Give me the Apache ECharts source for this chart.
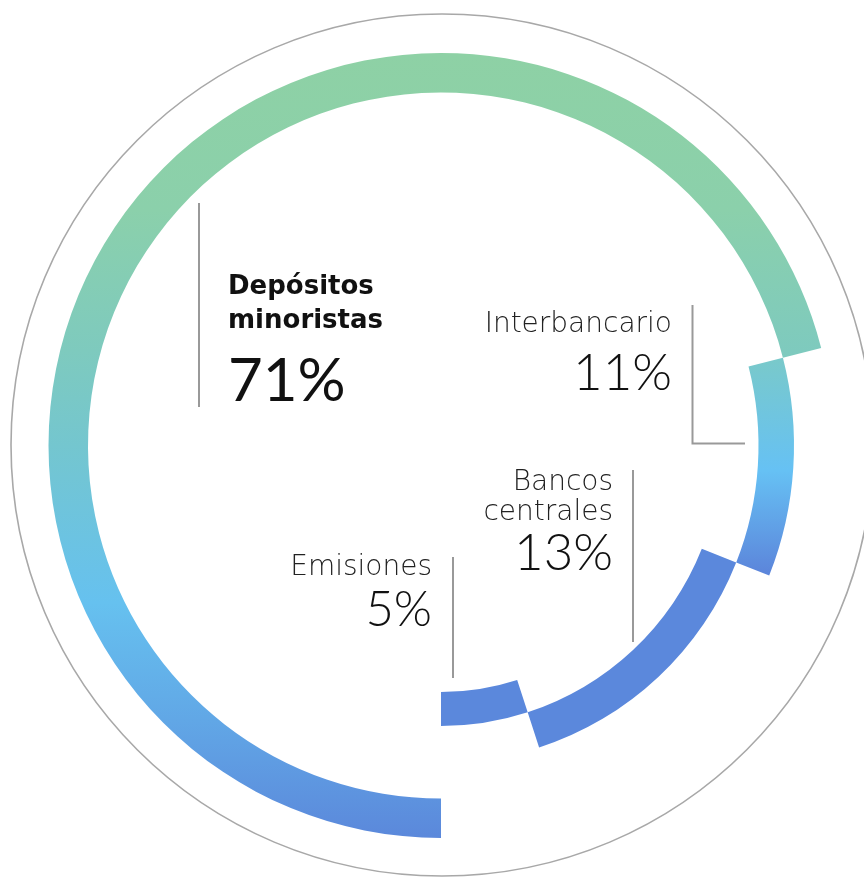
<!DOCTYPE html>
<html>
<head>
<meta charset="utf-8">
<script src="https://cdn.jsdelivr.net/npm/echarts@6/dist/echarts.min.js"></script>
<style>
html,body{margin:0;padding:0;background:#fff;}
#chart{width:864px;height:878px;}
</style>
</head>
<body>
<div id="chart"></div>
<script>
// ---- data ----
var categories = ['Depósitos minoristas', 'Interbancario', 'Bancos centrales', 'Emisiones'];
// arc sizes (share of the full turn, %), as drawn
var arcShares = [71, 10, 14, 5];
// printed percentages
var percentLabels = ['71%', '11%', '13%', '5%'];
// label text lines
var labelLines = [['Depósitos', 'minoristas'], ['Interbancario'], ['Bancos', 'centrales'], ['Emisiones']];

// ---- styling ----
var CX = 441, CY = 445.5;
var bandRadii = [[353, 392.5], [317.5, 353], [280.5, 317.5], [246.5, 280.5]];
var WORD_FONT = '"DejaVu Sans", Lato, sans-serif';
var NUM_FONT = 'Lato, "Open Sans", sans-serif';

var G = echarts.graphic.LinearGradient;
var fills = [
  new G(0, 53, 0, 838, [
    {offset: 0, color: '#8ed1a5'},
    {offset: 0.2, color: '#8bd0ab'},
    {offset: 0.38, color: '#7ecabe'},
    {offset: 0.5, color: '#74c6cf'},
    {offset: 0.7, color: '#66c1ef'},
    {offset: 0.85, color: '#61a7e6'},
    {offset: 1, color: '#5b88db'}
  ], true),
  new G(0, 347, 0, 572, [
    {offset: 0, color: '#7bcac6'},
    {offset: 0.55, color: '#66c1f4'},
    {offset: 1, color: '#5c86db'}
  ], true),
  '#5b88dc',
  '#5b88dc'
];

var series = [];
var cum = 0;
for (var i = 0; i < arcShares.length; i++) {
  var start = 270 - 360 * cum / 100;
  start = ((start % 360) + 360) % 360;
  series.push({
    type: 'pie',
    center: [CX, CY],
    radius: bandRadii[i],
    startAngle: start,
    clockwise: true,
    silent: true,
    animation: false,
    label: {show: false},
    labelLine: {show: false},
    emphasis: {disabled: true},
    itemStyle: {borderWidth: 0},
    data: [
      {name: categories[i], value: arcShares[i], itemStyle: {color: fills[i]}},
      {name: '', value: 100 - arcShares[i], itemStyle: {color: 'rgba(0,0,0,0)'}}
    ]
  });
  cum += arcShares[i];
}

// label layout (positions are styling)
var labelPos = [
  {x: 228, align: 'left', lineY: [287, 321], pctY: 381.5, nameFont: 'bold 26px ' + WORD_FONT, pctFont: '400 60px ' + NUM_FONT, color: '#111'},
  {x: 672, align: 'right', lineY: [325], pctY: 373.5, nameFont: '200 28px ' + WORD_FONT, pctFont: '300 51px ' + NUM_FONT, color: '#222'},
  {x: 613, align: 'right', lineY: [482.5, 513], pctY: 553.5, nameFont: '200 28px ' + WORD_FONT, pctFont: '300 51px ' + NUM_FONT, color: '#222'},
  {x: 432, align: 'right', lineY: [567.5], pctY: 610.5, nameFont: '200 28px ' + WORD_FONT, pctFont: '300 49px ' + NUM_FONT, color: '#222'}
];

var graphics = [
  {type: 'ellipse', shape: {cx: 442, cy: 445, rx: 431, ry: 431}, style: {fill: 'none', stroke: '#a8a8a8', lineWidth: 1.6}, silent: true, z: 0},
  {type: 'line', shape: {x1: 199, y1: 203, x2: 199, y2: 407}, style: {stroke: '#999', lineWidth: 2}, silent: true},
  {type: 'polyline', shape: {points: [[692.5, 305], [692.5, 443.5], [745, 443.5]]}, style: {stroke: '#999', lineWidth: 2, fill: 'none'}, silent: true},
  {type: 'line', shape: {x1: 633, y1: 470, x2: 633, y2: 642}, style: {stroke: '#999', lineWidth: 2}, silent: true},
  {type: 'line', shape: {x1: 453, y1: 557, x2: 453, y2: 678}, style: {stroke: '#999', lineWidth: 2}, silent: true}
];

for (var k = 0; k < categories.length; k++) {
  var p = labelPos[k];
  for (var j = 0; j < labelLines[k].length; j++) {
    graphics.push({
      type: 'text', silent: true,
      style: {x: p.x, y: p.lineY[j], text: labelLines[k][j], font: p.nameFont, fill: p.color, align: p.align, verticalAlign: 'middle'}
    });
  }
  graphics.push({
    type: 'text', silent: true,
    style: {x: p.x, y: p.pctY, text: percentLabels[k], font: p.pctFont, fill: '#111', align: p.align, verticalAlign: 'middle'}
  });
}

var chart = echarts.init(document.getElementById('chart'), null, {renderer: 'canvas'});
chart.setOption({
  animation: false,
  backgroundColor: '#fff',
  series: series,
  graphic: graphics
});
</script>
</body>
</html>
